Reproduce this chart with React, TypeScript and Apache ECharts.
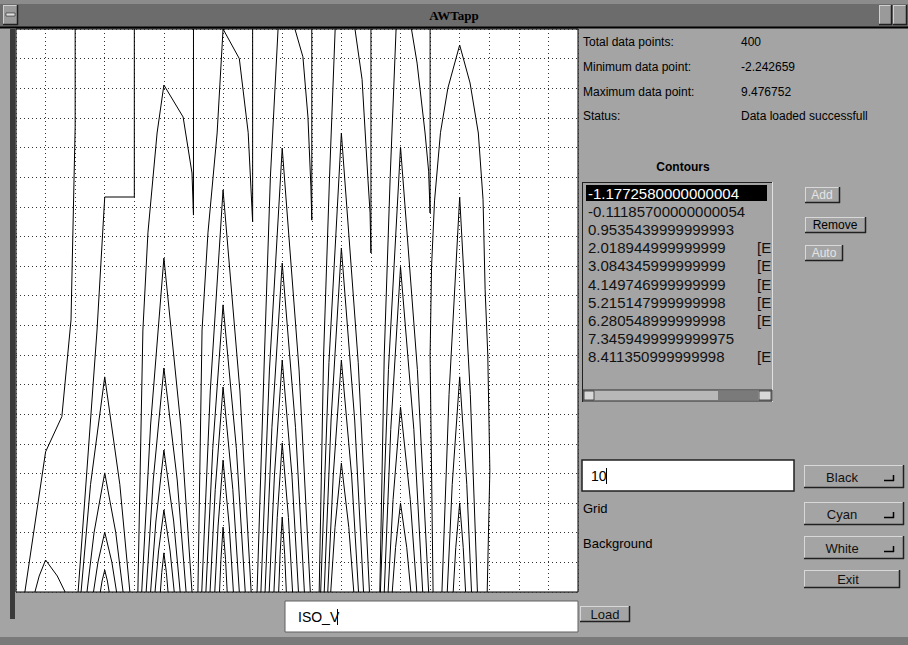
import React, { useEffect, useRef } from "react";
import * as echarts from "echarts";

// ---------- data ----------
const infoLabels = ["Total data points:", "Minimum data point:", "Maximum data point:", "Status:"];
const infoValues = ["400", "-2.242659", "9.476752", "Data loaded successfull"];
const contourValues = [
  "-1.1772580000000004",
  "-0.11185700000000054",
  "0.9535439999999993",
  "2.018944999999999",
  "3.084345999999999",
  "4.149746999999999",
  "5.215147999999998",
  "6.280548999999998",
  "7.3459499999999975",
  "8.411350999999998",
];
const contourFlags = ["", "", "", "[E", "[E", "[E", "[E", "[E", "", "[E"];
const colorChoices = ["Black", "Cyan", "White"];
const colorRowLabels = ["", "Grid", "Background"];
const fileName = "ISO_V";
const contourCount = "10";

// outer contour paths (grid units: x col 0..19, y row 0..19 from bottom)
const outerPaths: number[][][] = [
  [[2, 19], [2, 15.7], [1.86, 9.18], [1.55, 5.92], [1.0, 4.73], [0.3, 0]],
  [[4, 19], [4, 13.33], [3, 13.33], [2.74, 8.84], [2.1, 0]],
  [[6, 19], [6, 12.72], [5.95, 14.14], [5.65, 16.03], [5, 17.11], [4.77, 15.49], [4.46, 12.12], [4.29, 8.84], [4.12, 0]],
  [[8, 19], [8, 12.49], [7.85, 15.5], [7.55, 18.0], [7, 19], [6.8, 15.49], [6.49, 12.12], [6.29, 8.84], [6.15, 0]],
  [[8.86, 19], [8.6, 14], [8.4, 8], [8.15, 0]],
  [[10, 19], [10, 12.55], [9.97, 13.67], [9.87, 16.03], [9.7, 18.06], [9.43, 19]],
  [[10.79, 19], [10.6, 14], [10.4, 8], [10.25, 0]],
  [[12, 19], [12, 11.44], [11.97, 12.8], [11.9, 13.9], [11.7, 17.3], [11.46, 19]],
  [[12.85, 19], [12.65, 14], [12.45, 8], [12.3, 0]],
  [[14, 19], [14, 12.79], [13.95, 14.2], [13.83, 15.49], [13.56, 17.85], [13.37, 19]],
  [[14.1, 0], [14.0, 8.0], [14.05, 11.0], [14.15, 13.2], [14.35, 15.5], [14.6, 17.0], [15, 18.46],
   [15.35, 17.18], [15.63, 15.49], [15.79, 13.24], [15.86, 10.2], [15.95, 8], [16.02, 4.1], [15.93, 0]],
];

// nested peaks: [column, apex row, bottom offset left, bottom offset right]
const peaks: number[][] = [
  [1, 1.08, -0.36, 0.66],
  [3, 7.26, -0.8, 0.85], [3, 4.02, -0.6, 0.62], [3, 2.02, -0.38, 0.4], [3, 0.74, -0.15, 0.15],
  [5, 11.27, -0.75, 0.95], [5, 7.56, -0.6, 0.75], [5, 4.79, -0.45, 0.55], [5, 2.77, -0.3, 0.35], [5, 1.32, -0.12, 0.14],
  [7, 13.57, -0.72, 0.95], [7, 9.69, -0.58, 0.75], [7, 6.92, -0.44, 0.55], [7, 4.45, -0.28, 0.35], [7, 2.19, -0.12, 0.14],
  [9, 14.98, -0.72, 0.95], [9, 11.1, -0.58, 0.75], [9, 7.83, -0.44, 0.55], [9, 5.03, -0.28, 0.35], [9, 2.53, -0.12, 0.14],
  [11, 15.49, -0.7, 0.95], [11, 11.61, -0.58, 0.75], [11, 7.83, -0.46, 0.58], [11, 4.35, -0.36, 0.42],
  [13, 15.02, -0.68, 0.95], [13, 10.97, -0.55, 0.75], [13, 6.24, -0.42, 0.55], [13, 3.0, -0.28, 0.35],
  [15, 13.33, -0.6, 0.6], [15, 7.26, -0.42, 0.4], [15, 3.0, -0.22, 0.2],
];

function peakPath(p: number[]): number[][] {
  const [c, a, l, r] = p;
  const k = a * 0.5;
  return [[c + l, 0], [c + l * 0.6, k], [c, a], [c + r * 0.6, k], [c + r, 0]];
}

const BG = "#a4a4a4";
const UI_FONT = "Liberation Sans";

function bevel(x: number, y: number, w: number, h: number, fill: string, light: string, dark: string) {
  return [
    { type: "rect", shape: { x, y, width: w, height: h }, style: { fill } },
    { type: "line", shape: { x1: x, y1: y + 0.5, x2: x + w, y2: y + 0.5 }, style: { stroke: light, lineWidth: 1 } },
    { type: "line", shape: { x1: x + 0.5, y1: y, x2: x + 0.5, y2: y + h }, style: { stroke: light, lineWidth: 1 } },
    { type: "line", shape: { x1: x, y1: y + h - 0.5, x2: x + w, y2: y + h - 0.5 }, style: { stroke: dark, lineWidth: 1.5 } },
    { type: "line", shape: { x1: x + w - 0.5, y1: y, x2: x + w - 0.5, y2: y + h }, style: { stroke: dark, lineWidth: 1.5 } },
  ];
}

function txt(x: number, y: number, text: string, font: string, fill = "#000", align = "left") {
  return { type: "text", x, y, style: { text, font, fill, textAlign: align, textVerticalAlign: "middle" } };
}

export default function App() {
  const ref = useRef<HTMLDivElement>(null);
  useEffect(() => {
    document.body.style.margin = "0";
    const chart = echarts.init(ref.current!, null, { renderer: "svg" });
    const paths = [...outerPaths, ...peaks.map(peakPath)];
    const g: any[] = [];

    // window frame & title bar
    g.push({ type: "rect", shape: { x: 0, y: 0, width: 908, height: 5 }, style: { fill: "#8c8c8c" } });
    g.push({ type: "rect", shape: { x: 0, y: 4, width: 908, height: 23 }, style: { fill: "#6c6c6c" } });
    g.push(...bevel(3, 5, 15, 20, "#9a9a9a", "#d0d0d0", "#202020"));
    g.push({ type: "rect", shape: { x: 6, y: 13, width: 9, height: 3 }, style: { fill: "#e0e0e0", stroke: "#000", lineWidth: 0.5 } });
    g.push(...bevel(879, 5, 13, 20, "#9a9a9a", "#d0d0d0", "#202020"));
    g.push(...bevel(893, 5, 14, 20, "#9a9a9a", "#d0d0d0", "#202020"));
    g.push({ type: "line", shape: { x1: 0, y1: 27.5, x2: 908, y2: 27.5 }, style: { stroke: "#000", lineWidth: 2 } });
    g.push(txt(454, 15, "AWTapp", "bold 13px Liberation Serif", "#000", "center"));
    // left frame line
    g.push({ type: "rect", shape: { x: 10, y: 29, width: 5, height: 590 }, style: { fill: "#3a3a3a" } });
    g.push({ type: "rect", shape: { x: 0, y: 637, width: 908, height: 8 }, style: { fill: "#7a7a7a" } });

    // info block
    infoLabels.forEach((t, i) => {
      const y = 42 + i * 24.8;
      g.push(txt(583, y, t, `12px ${UI_FONT}`));
      g.push(txt(741, y, infoValues[i], `12px ${UI_FONT}`));
    });
    g.push(txt(683, 167, "Contours", `bold 12px ${UI_FONT}`, "#000", "center"));

    // list box
    g.push({ type: "line", shape: { x1: 582, y1: 182.5, x2: 772, y2: 182.5 }, style: { stroke: "#202020", lineWidth: 1 } });
    g.push({ type: "line", shape: { x1: 582.5, y1: 182, x2: 582.5, y2: 402 }, style: { stroke: "#202020", lineWidth: 1 } });
    g.push({ type: "line", shape: { x1: 772.5, y1: 182, x2: 772.5, y2: 402 }, style: { stroke: "#e0e0e0", lineWidth: 1 } });
    g.push({ type: "rect", shape: { x: 586, y: 185, width: 181, height: 16 }, style: { fill: "#000" } });
    contourValues.forEach((t, i) => {
      const y = 193.5 + i * 18.1;
      g.push(txt(588, y, t, `15px ${UI_FONT}`, i === 0 ? "#fff" : "#111"));
      if (contourFlags[i]) g.push(txt(757, y, contourFlags[i], `15px ${UI_FONT}`, "#111"));
    });
    // list scrollbar
    g.push({ type: "rect", shape: { x: 583, y: 390, width: 189, height: 11 }, style: { fill: "#b8b8b8", stroke: "#303030", lineWidth: 1 } });
    g.push({ type: "rect", shape: { x: 584, y: 391, width: 10, height: 9 }, style: { fill: "#d8d8d8", stroke: "#303030", lineWidth: 0.8 } });
    g.push({ type: "rect", shape: { x: 718, y: 391, width: 40, height: 9 }, style: { fill: "#7a7a7a" } });
    g.push({ type: "rect", shape: { x: 759, y: 391, width: 12, height: 9 }, style: { fill: "#d8d8d8", stroke: "#303030", lineWidth: 0.8 } });

    // Add / Remove / Auto buttons
    g.push(...bevel(805, 187, 35, 16, BG, "#d8d8d8", "#202020"));
    g.push(txt(822, 195, "Add", `12px ${UI_FONT}`, "#e4e4e4", "center"));
    g.push(...bevel(805, 217, 61, 16, BG, "#d8d8d8", "#202020"));
    g.push(txt(835, 225, "Remove", `12px ${UI_FONT}`, "#000", "center"));
    g.push(...bevel(805, 245, 38, 16, BG, "#d8d8d8", "#202020"));
    g.push(txt(824, 253, "Auto", `12px ${UI_FONT}`, "#e4e4e4", "center"));

    // contour count field
    g.push({ type: "rect", shape: { x: 582, y: 460, width: 212, height: 31 }, style: { fill: "#fff", stroke: "#202020", lineWidth: 1.5 } });
    g.push(txt(591, 476, contourCount, `14px ${UI_FONT}`));
    g.push({ type: "line", shape: { x1: 606.5, y1: 468, x2: 606.5, y2: 484 }, style: { stroke: "#000", lineWidth: 1 } });

    // colour option menus
    const menuY = [465, 502, 536];
    colorChoices.forEach((c, i) => {
      const y = menuY[i];
      g.push(...bevel(804, y, 100, 23, BG, "#d8d8d8", "#202020"));
      g.push(txt(842, y + 12, c, `13px ${UI_FONT}`, "#111", "center"));
      g.push({ type: "line", shape: { x1: 884, y1: y + 15.5, x2: 894, y2: y + 15.5 }, style: { stroke: "#000", lineWidth: 1.5 } });
      g.push({ type: "line", shape: { x1: 893.5, y1: y + 10, x2: 893.5, y2: y + 16 }, style: { stroke: "#000", lineWidth: 1.5 } });
      if (colorRowLabels[i]) g.push(txt(583, y + 6 + (i === 1 ? 0 : 1), colorRowLabels[i], `13px ${UI_FONT}`));
    });
    g.push(...bevel(804, 570, 96, 18, BG, "#d8d8d8", "#202020"));
    g.push(txt(848, 579, "Exit", `13px ${UI_FONT}`, "#111", "center"));

    // bottom: file field and load button
    g.push({ type: "rect", shape: { x: 285, y: 601, width: 293, height: 31 }, style: { fill: "#fff", stroke: "#606060", lineWidth: 1 } });
    g.push(txt(298, 617, fileName, `14px ${UI_FONT}`));
    g.push({ type: "line", shape: { x1: 337.5, y1: 609, x2: 337.5, y2: 625 }, style: { stroke: "#000", lineWidth: 1 } });
    g.push(...bevel(580, 606, 50, 16, BG, "#d8d8d8", "#202020"));
    g.push(txt(605, 614, "Load", `13px ${UI_FONT}`, "#111", "center"));

    const axisCommon = {
      type: "value",
      min: 0,
      max: 19,
      interval: 1,
      axisLine: { show: false },
      axisTick: { show: false },
      axisLabel: { show: false },
      splitLine: { show: true, lineStyle: { color: "#333", width: 1, type: [1, 3] } },
    };

    chart.setOption({
      animation: false,
      backgroundColor: BG,
      grid: {
        left: 16,
        top: 29,
        width: 562,
        height: 563,
        show: true,
        backgroundColor: "#fff",
        borderColor: "#000",
        borderWidth: 1,
      },
      xAxis: axisCommon,
      yAxis: axisCommon,
      series: [
        {
          type: "lines",
          coordinateSystem: "cartesian2d",
          polyline: true,
          silent: true,
          clip: true,
          lineStyle: { color: "#000", width: 1, opacity: 1 },
          data: paths.map((p) => ({ coords: p })),
        },
      ],
      graphic: g,
    });
    return () => chart.dispose();
  }, []);
  return <div ref={ref} style={{ width: 908, height: 645 }} />;
}
